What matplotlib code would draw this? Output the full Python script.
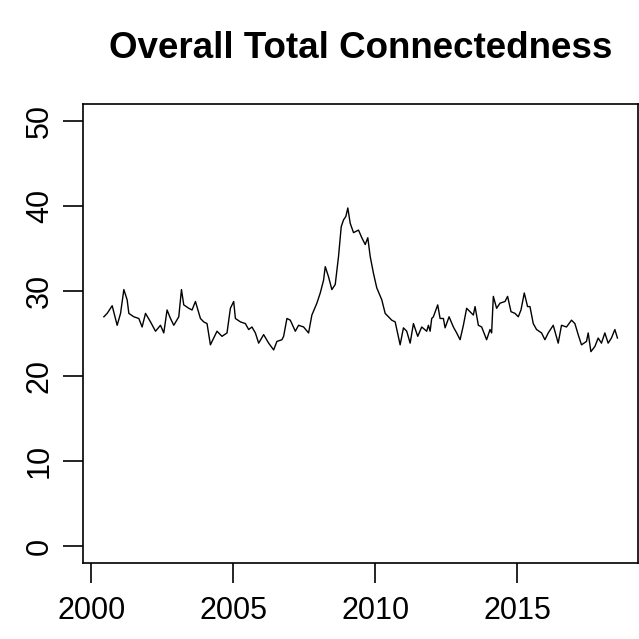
import matplotlib
matplotlib.use("Agg")
import matplotlib.pyplot as plt

title = "Overall Total Connectedness"
x_ticks = [2000, 2005, 2010, 2015]
y_ticks = [0, 10, 20, 30, 40, 50]

years = [2000.446, 2000.562, 2000.738, 2000.798, 2000.914, 2001.033, 2001.149, 2001.265,
         2001.325, 2001.500, 2001.676, 2001.792, 2001.911, 2002.087, 2002.263, 2002.438,
         2002.554, 2002.670, 2002.790, 2002.906, 2003.082, 2003.176, 2003.257, 2003.433,
         2003.549, 2003.668, 2003.844, 2003.960, 2004.076, 2004.195, 2004.311, 2004.427,
         2004.603, 2004.779, 2004.898, 2005.014, 2005.074, 2005.250, 2005.425, 2005.541,
         2005.657, 2005.777, 2005.893, 2006.068, 2006.244, 2006.420, 2006.535, 2006.711,
         2006.771, 2006.887, 2007.006, 2007.182, 2007.298, 2007.474, 2007.649, 2007.765,
         2007.941, 2008.060, 2008.176, 2008.236, 2008.352, 2008.468, 2008.587, 2008.703,
         2008.798, 2008.879, 2008.960, 2009.030, 2009.114, 2009.230, 2009.406, 2009.522,
         2009.642, 2009.733, 2009.817, 2009.933, 2010.049, 2010.225, 2010.344, 2010.460,
         2010.576, 2010.696, 2010.871, 2010.987, 2011.103, 2011.223, 2011.339, 2011.490,
         2011.630, 2011.806, 2011.866, 2011.926, 2011.982, 2012.041, 2012.193, 2012.277,
         2012.393, 2012.453, 2012.593, 2012.744, 2012.860, 2012.980, 2013.096, 2013.211,
         2013.331, 2013.447, 2013.507, 2013.623, 2013.739, 2013.914, 2014.034, 2014.090,
         2014.150, 2014.266, 2014.385, 2014.561, 2014.652, 2014.772, 2014.912, 2015.028,
         2015.123, 2015.239, 2015.355, 2015.439, 2015.555, 2015.671, 2015.847, 2015.966,
         2016.082, 2016.258, 2016.433, 2016.549, 2016.725, 2016.901, 2017.020, 2017.136,
         2017.252, 2017.428, 2017.488, 2017.583, 2017.723, 2017.839, 2017.955, 2018.074,
         2018.190, 2018.306, 2018.426, 2018.517]

values = [27.0, 27.4, 28.3, 27.5, 26.0, 27.4, 30.2, 29.0,
          27.4, 27.0, 26.8, 25.8, 27.4, 26.4, 25.3, 26.0,
          25.1, 27.8, 26.8, 26.0, 27.0, 30.2, 28.4, 28.0,
          27.8, 28.8, 26.8, 26.4, 26.2, 23.7, 24.5, 25.3,
          24.7, 25.1, 28.0, 28.8, 26.8, 26.4, 26.2, 25.5,
          25.8, 25.1, 23.9, 24.9, 23.9, 23.1, 24.1, 24.3,
          24.7, 26.8, 26.6, 25.3, 26.0, 25.8, 25.1, 27.2,
          28.6, 29.8, 31.3, 32.9, 31.7, 30.2, 30.8, 34.1,
          37.6, 38.4, 38.8, 39.8, 38.0, 36.9, 37.2, 36.3,
          35.5, 36.3, 34.1, 32.1, 30.4, 29.0, 27.4, 27.0,
          26.6, 26.4, 23.7, 25.7, 25.3, 23.9, 26.2, 24.7,
          25.8, 25.3, 26.0, 25.3, 26.8, 27.0, 28.4, 26.8,
          26.8, 25.7, 27.0, 25.8, 25.1, 24.3, 26.0, 28.0,
          27.6, 27.2, 28.2, 26.0, 25.8, 24.3, 25.5, 25.1,
          29.4, 28.0, 28.6, 28.8, 29.4, 27.6, 27.4, 27.0,
          27.8, 29.8, 28.2, 28.2, 26.2, 25.5, 25.1, 24.3,
          25.1, 26.0, 23.9, 26.0, 25.8, 26.6, 26.2, 24.9,
          23.7, 24.1, 25.1, 22.9, 23.5, 24.5, 23.9, 25.1,
          23.9, 24.5, 25.5, 24.5]

plt.rcParams['font.family'] = ['Liberation Sans', 'DejaVu Sans']

fig = plt.figure(figsize=(6.39, 6.39), dpi=100)
ax = fig.add_axes([0.1304, 0.1185, 0.868, 0.7183])
ax.plot(years, values, color='black', linewidth=1.0)

xr = max(years) - min(years)
ax.set_xlim(min(years) - 0.04 * xr, max(years) + 0.04 * xr)
ax.set_ylim(-2, 52)
ax.set_xticks(x_ticks)
ax.set_xticklabels([str(t) for t in x_ticks])
ax.set_yticks(y_ticks)
ax.set_yticklabels([str(t) for t in y_ticks], rotation=90, va='center')
ax.tick_params(axis='both', direction='out', length=14.5, width=1.2, labelsize=22)
ax.tick_params(axis='x', pad=9)
ax.tick_params(axis='y', pad=6)
for s in ax.spines.values():
    s.set_linewidth(1.2)

fig.text(0.564, 0.924, title, ha='center', va='center', fontsize=26.5, fontweight='bold')

fig.savefig("out.png", dpi=100)
